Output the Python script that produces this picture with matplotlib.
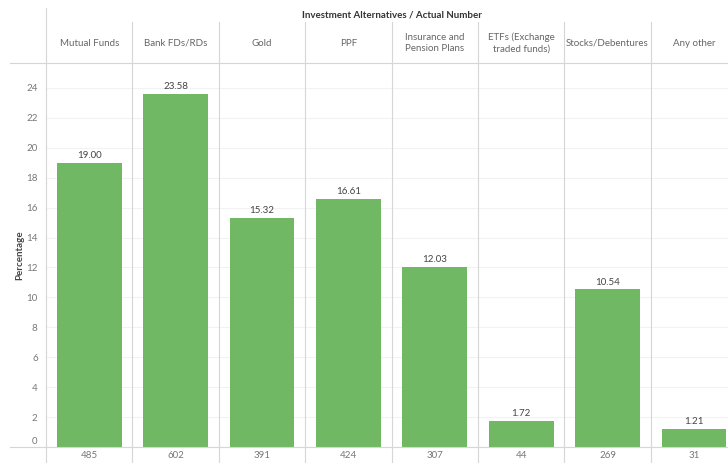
import matplotlib.pyplot as plt
import matplotlib.transforms as mtransforms
from matplotlib.lines import Line2D

categories = ["Mutual Funds", "Bank FDs/RDs", "Gold", "PPF",
              "Insurance and\nPension Plans", "ETFs (Exchange\ntraded funds)",
              "Stocks/Debentures", "Any other"]
percentages = [19.00, 23.58, 15.32, 16.61, 12.03, 1.72, 10.54, 1.21]
counts = [485, 602, 391, 424, 307, 44, 269, 31]
yticks = [0, 2, 4, 6, 8, 10, 12, 14, 16, 18, 20, 22, 24]

plt.rcParams["font.family"] = ["Lato", "DejaVu Sans"]

W, H = 728, 463
fig = plt.figure(figsize=(W / 100, H / 100), dpi=100)

# pixel layout of the panel grid
left_px, col_px = 46, 86.4
top_px, base_px = 63, 447
n = len(categories)

def fx(px):
    return px / W

def fy(py):
    return 1 - py / H

ax = fig.add_axes([fx(left_px), fy(base_px), fx(col_px * n), fy(top_px) - fy(base_px)])
ax.set_xlim(0, n)
ax.set_ylim(0, (base_px - top_px) / 14.96)

bar_color = "#71b865"
grid_color = "#d6d6d6"
ax.bar([i + 0.5 for i in range(n)], percentages, width=0.75, color=bar_color, zorder=2)

for i, v in enumerate(percentages):
    ax.annotate(f"{v:.2f}", (i + 0.5, v), xytext=(0, 2), textcoords="offset points",
                ha="center", va="bottom", fontsize=7, color="#444444")

ax.set_yticks(yticks)
ax.set_xticks([])
ax.tick_params(axis="y", length=0, labelsize=7, labelcolor="#777777", pad=6)
ax.yaxis.grid(True, color="#f2f2f2", linewidth=0.8, zorder=0)
for s in ax.spines.values():
    s.set_visible(False)

# lift the zero label off the baseline
zero_lbl = ax.get_yticklabels()[0]
zero_lbl.set_transform(zero_lbl.get_transform() +
                       mtransforms.ScaledTranslation(0, 5 / 72, fig.dpi_scale_trans))

# panel separators and header/footer rules
for i in range(n + 1):
    x = fx(left_px + i * col_px)
    y_start = fy(8) if i == 0 else fy(22)
    fig.add_artist(Line2D([x, x], [y_start, 0], color=grid_color, linewidth=0.8))
for py in (top_px, base_px):
    fig.add_artist(Line2D([fx(10), 1], [fy(py), fy(py)], color=grid_color, linewidth=0.8))

# column headers and counts
for i, (cat, cnt) in enumerate(zip(categories, counts)):
    cx = fx(left_px + (i + 0.5) * col_px)
    fig.text(cx, fy(43), cat, ha="center", va="center", fontsize=7,
             color="#666666", linespacing=1.4)
    fig.text(cx, fy(456), str(cnt), ha="center", va="center", fontsize=7, color="#777777")

fig.text(fx(392), fy(15), "Investment Alternatives / Actual Number", ha="center",
         va="center", fontsize=7, fontweight="bold", color="#333333")
fig.text(fx(20), fy(255), "Percentage", ha="center", va="center", rotation=90,
         fontsize=7, fontweight="bold", color="#444444")

fig.savefig("out.png", dpi=100)
